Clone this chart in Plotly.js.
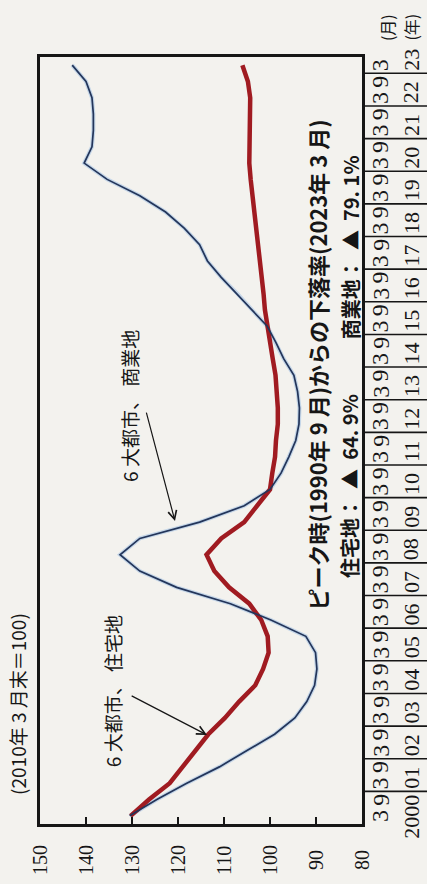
<!DOCTYPE html>
<html>
<head>
<meta charset="utf-8">
<script src="https://cdn.plot.ly/plotly-3.0.1.min.js"></script>
<style>
html,body{margin:0;padding:0;background:#f3f2ee;}
#chart{width:427px;height:884px;}
</style>
</head>
<body>
<div id="chart"></div>
<script>
// Half-year periods (end of March / end of September), 2000-03 .. 2023-03
const periods = [];
for (let y = 2000; y <= 2023; y++) {
  periods.push(y + '-03');
  if (y < 2023) periods.push(y + '-09');
}
// 6大都市 商業地 (index, 2010年3月末=100)
const commercial = [130.5,124.6,118.1,111.0,105.0,99.0,94.6,92.0,90.3,89.8,
  90.1,92.2,99.8,108.6,120.3,128.3,132.6,128.3,115.3,105.6,
  100.0,97.6,95.9,94.4,93.7,93.6,94.0,94.8,97.0,98.7,
  100.6,103.9,107.1,110.6,113.6,115.3,118.6,122.7,128.3,135.4,
  140.4,138.7,138.4,138.4,138.7,140.0,143.0];
// 6大都市 住宅地
const residential = [130.3,126.3,121.8,119.0,116.2,113.4,109.8,106.7,103.2,101.5,
  100.3,100.5,101.9,104.5,108.9,112.1,113.8,110.6,105.6,102.8,
  100.0,99.5,98.9,98.7,98.3,98.3,98.5,98.8,99.4,100.0,
  100.6,101.1,101.4,101.8,102.4,102.8,103.0,103.5,103.9,104.2,
  104.5,104.5,104.5,104.3,104.3,104.8,106.0];
const valueTicks = [150,140,130,120,110,100,90,80];
const innerTicks = [140,130,120,110,100,90];
const tableYears = [];
for (let y = 2000; y <= 2023; y++) tableYears.push(y);
const yearLabels = tableYears.map(y => y === 2000 ? '2000' : String(y).slice(2));
const monthLabels = periods.map(p => String(Number(p.split('-')[1])));

const timeOf = p => { const [y, m] = p.split('-').map(Number); return y + m / 12; };
const times = periods.map(timeOf);

const ink = '#161616';
const cjk = '"Noto Sans CJK JP", "Noto Sans CJK SC", sans-serif';
const serif = '"Liberation Serif", "DejaVu Serif", serif';

const traces = [
  {x: commercial, y: times, type: 'scatter', mode: 'lines', xaxis: 'x', yaxis: 'y',
   line: {color: 'rgba(140,180,225,0.45)', width: 4}, hoverinfo: 'skip', showlegend: false},
  {x: residential, y: times, type: 'scatter', mode: 'lines', name: '6大都市、住宅地',
   line: {color: '#a01b21', width: 4.5}, showlegend: false},
  {x: commercial, y: times, type: 'scatter', mode: 'lines', name: '6大都市、商業地',
   line: {color: '#23355a', width: 1.7}, showlegend: false}
];

const C = {xanchor: 'center', yanchor: 'middle', showarrow: false, textangle: -90};
const annotations = [];
// value-axis tick labels (rotated, below the axis)
valueTicks.forEach(v => annotations.push(Object.assign({}, C, {
  x: v, xref: 'x', y: -0.047, yref: 'paper', text: String(v),
  font: {family: serif, size: 20, color: ink}
})));
// month row
periods.forEach((p, i) => annotations.push(Object.assign({}, C, {
  x: 0.28, xref: 'x2', y: times[i], yref: 'y', text: monthLabels[i],
  font: {family: serif, size: 24, color: ink}
})));
// year row
tableYears.forEach((y, i) => annotations.push(Object.assign({}, C, {
  x: 0.76, xref: 'x2', y: y === 2000 ? y + 0.97 : y + 0.03, yref: 'y',
  text: yearLabels[i], yanchor: y === 2000 ? 'top' : 'bottom',
  font: {family: serif, size: 22, color: ink}
})));
// unit labels
annotations.push(Object.assign({}, C, {x: 0.8966, xref: 'paper', y: 1.039, yref: 'paper', text: '(月)',
  font: {family: cjk, size: 16, color: ink}}));
annotations.push(Object.assign({}, C, {x: 0.96, xref: 'paper', y: 1.039, yref: 'paper', text: '(年)',
  font: {family: cjk, size: 16, color: ink}}));
// index note
annotations.push(Object.assign({}, C, {x: -0.057, xref: 'paper', y: 0.1565, yref: 'paper',
  text: '(2010年 3 月末＝100)', font: {family: cjk, size: 19, color: ink}}));
// series labels
annotations.push(Object.assign({}, C, {x: 134.35, xref: 'x', y: 2004.07, yref: 'y',
  text: '6 大都市、 住宅地', font: {family: cjk, size: 19, color: ink}}));
annotations.push(Object.assign({}, C, {x: 130.43, xref: 'x', y: 2012.81, yref: 'y',
  text: '6 大都市、 商業地', font: {family: cjk, size: 19, color: ink}}));
// arrows
annotations.push({x: 113.7, y: 2002.73, xref: 'x', yref: 'y', ax: 130.4, ay: 2003.95, axref: 'x', ayref: 'y',
  text: '', showarrow: true, arrowhead: 5, arrowsize: 1.4, arrowwidth: 1.2, arrowcolor: ink, standoff: 0});
annotations.push({x: 120.65, y: 2009.28, xref: 'x', yref: 'y', ax: 126.96, ay: 2012.65, axref: 'x', ayref: 'y',
  text: '', showarrow: true, arrowhead: 5, arrowsize: 1.4, arrowwidth: 1.2, arrowcolor: ink, standoff: 0});
// peak decline note
annotations.push(Object.assign({}, C, {x: 0.716, xref: 'paper', y: 0.598, yref: 'paper',
  text: 'ピーク時(1990年 9 月)からの下落率(2023年 3 月)',
  font: {family: cjk, size: 22, color: ink, weight: 'bold'}}));
annotations.push(Object.assign({}, C, {x: 0.801, xref: 'paper', y: 0.4407, yref: 'paper',
  text: '住宅地：  ▲  64. 9%', font: {family: cjk, size: 20, color: ink, weight: 'bold'}}));
annotations.push(Object.assign({}, C, {x: 0.801, xref: 'paper', y: 0.752, yref: 'paper',
  text: '商業地：  ▲  79. 1%', font: {family: cjk, size: 20, color: ink, weight: 'bold'}}));

// table column separators at each year boundary
const shapes = tableYears.slice(1).map(y => ({
  type: 'line', xref: 'x2', yref: 'y', x0: 0, x1: 1, y0: y, y1: y,
  line: {color: ink, width: 1.6}
}));

const layout = {
  width: 427, height: 884,
  margin: {l: 40, r: 0, t: 57, b: 60, pad: 0},
  paper_bgcolor: '#f3f2ee', plot_bgcolor: '#f3f2ee',
  showlegend: false,
  xaxis: {domain: [0, 0.832], range: [150, 80], autorange: false, anchor: 'y',
    showline: true, mirror: true, linecolor: ink, linewidth: 2.6,
    ticks: 'inside', ticklen: 7, tickwidth: 2, tickcolor: ink, tickvals: innerTicks,
    showticklabels: false, showgrid: false, zeroline: false},
  xaxis2: {domain: [0.832, 1], range: [0, 1], autorange: false, anchor: 'y',
    visible: false, showgrid: false, zeroline: false},
  yaxis: {domain: [0, 1], range: [2000, 2023.5], autorange: false, anchor: 'x',
    showline: true, mirror: true, linecolor: ink, linewidth: 2.6,
    ticks: '', showticklabels: false, showgrid: false, zeroline: false},
  annotations: annotations,
  shapes: shapes
};

Plotly.newPlot('chart', traces, layout, {displayModeBar: false, staticPlot: true});
</script>
</body>
</html>
